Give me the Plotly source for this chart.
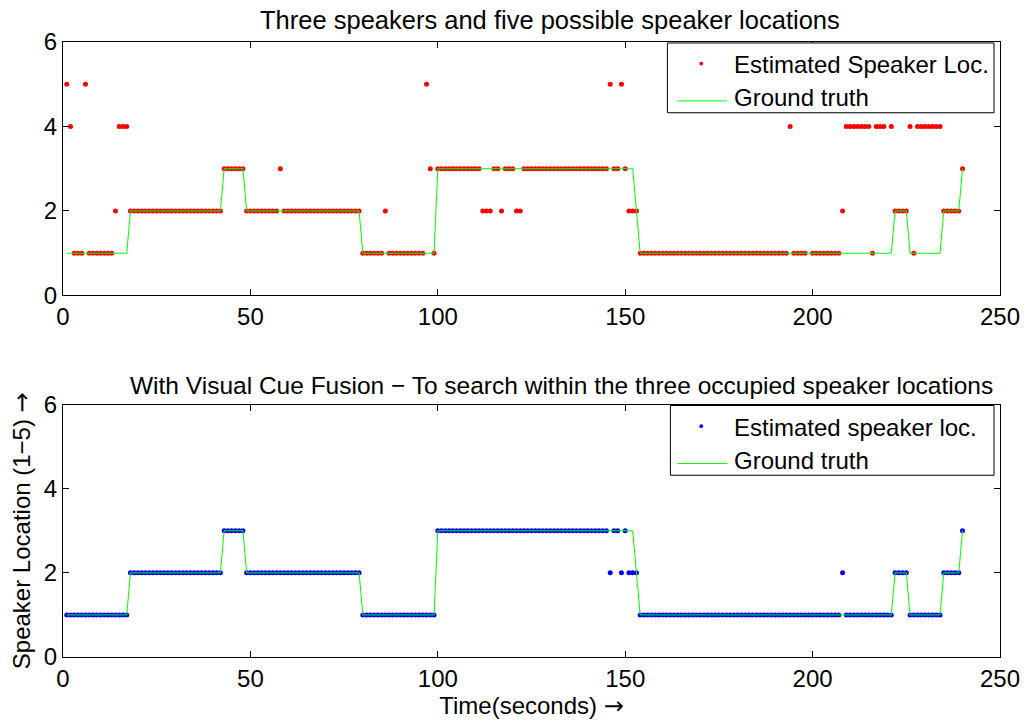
import plotly.graph_objects as go

# Time index (seconds), one sample per second
time_s = list(range(1, 241))

# Ground-truth speaker location for each second
ground_truth = [
    1, 1, 1, 1, 1, 1, 1, 1, 1, 1,   # 1-10
    1, 1, 1, 1, 1, 1, 1, 2, 2, 2,   # 11-20
    2, 2, 2, 2, 2, 2, 2, 2, 2, 2,   # 21-30
    2, 2, 2, 2, 2, 2, 2, 2, 2, 2,   # 31-40
    2, 2, 3, 3, 3, 3, 3, 3, 2, 2,   # 41-50
    2, 2, 2, 2, 2, 2, 2, 2, 2, 2,   # 51-60
    2, 2, 2, 2, 2, 2, 2, 2, 2, 2,   # 61-70
    2, 2, 2, 2, 2, 2, 2, 2, 2, 1,   # 71-80
    1, 1, 1, 1, 1, 1, 1, 1, 1, 1,   # 81-90
    1, 1, 1, 1, 1, 1, 1, 1, 1, 3,   # 91-100
    3, 3, 3, 3, 3, 3, 3, 3, 3, 3,   # 101-110
    3, 3, 3, 3, 3, 3, 3, 3, 3, 3,   # 111-120
    3, 3, 3, 3, 3, 3, 3, 3, 3, 3,   # 121-130
    3, 3, 3, 3, 3, 3, 3, 3, 3, 3,   # 131-140
    3, 3, 3, 3, 3, 3, 3, 3, 3, 3,   # 141-150
    3, 3, 2, 1, 1, 1, 1, 1, 1, 1,   # 151-160
    1, 1, 1, 1, 1, 1, 1, 1, 1, 1,   # 161-170
    1, 1, 1, 1, 1, 1, 1, 1, 1, 1,   # 171-180
    1, 1, 1, 1, 1, 1, 1, 1, 1, 1,   # 181-190
    1, 1, 1, 1, 1, 1, 1, 1, 1, 1,   # 191-200
    1, 1, 1, 1, 1, 1, 1, 1, 1, 1,   # 201-210
    1, 1, 1, 1, 1, 1, 1, 1, 1, 1,   # 211-220
    1, 2, 2, 2, 2, 1, 1, 1, 1, 1,   # 221-230
    1, 1, 1, 1, 2, 2, 2, 2, 2, 3,   # 231-240
]

# Audio-only estimate, searching all five locations
estimate_audio = [
    5, 4, 1, 1, 1, 5, 1, 1, 1, 1,   # 1-10
    1, 1, 1, 2, 4, 4, 4, 2, 2, 2,   # 11-20
    2, 2, 2, 2, 2, 2, 2, 2, 2, 2,   # 21-30
    2, 2, 2, 2, 2, 2, 2, 2, 2, 2,   # 31-40
    2, 2, 3, 3, 3, 3, 3, 3, 2, 2,   # 41-50
    2, 2, 2, 2, 2, 2, 2, 3, 2, 2,   # 51-60
    2, 2, 2, 2, 2, 2, 2, 2, 2, 2,   # 61-70
    2, 2, 2, 2, 2, 2, 2, 2, 2, 1,   # 71-80
    1, 1, 1, 1, 1, 2, 1, 1, 1, 1,   # 81-90
    1, 1, 1, 1, 1, 1, 5, 3, 1, 3,   # 91-100
    3, 3, 3, 3, 3, 3, 3, 3, 3, 3,   # 101-110
    3, 2, 2, 2, 3, 3, 2, 3, 3, 3,   # 111-120
    2, 2, 3, 3, 3, 3, 3, 3, 3, 3,   # 121-130
    3, 3, 3, 3, 3, 3, 3, 3, 3, 3,   # 131-140
    3, 3, 3, 3, 3, 5, 3, 3, 5, 3,   # 141-150
    2, 2, 2, 1, 1, 1, 1, 1, 1, 1,   # 151-160
    1, 1, 1, 1, 1, 1, 1, 1, 1, 1,   # 161-170
    1, 1, 1, 1, 1, 1, 1, 1, 1, 1,   # 171-180
    1, 1, 1, 1, 1, 1, 1, 1, 1, 1,   # 181-190
    1, 1, 1, 4, 1, 1, 1, 1, None, 1,  # 191-200
    1, 1, 1, 1, 1, 1, 1, 2, 4, 4,   # 201-210
    4, 4, 4, 4, 4, 1, 4, 4, 4, None,  # 211-220
    4, 2, 2, 2, 2, 4, 1, 4, 4, 4,   # 221-230
    4, 4, 4, 4, 2, 2, 2, 2, 2, 3,   # 231-240
]

# Estimate with visual cue fusion, searching the three occupied locations
estimate_fused = [
    1, 1, 1, 1, 1, 1, 1, 1, 1, 1,   # 1-10
    1, 1, 1, 1, 1, 1, 1, 2, 2, 2,   # 11-20
    2, 2, 2, 2, 2, 2, 2, 2, 2, 2,   # 21-30
    2, 2, 2, 2, 2, 2, 2, 2, 2, 2,   # 31-40
    2, 2, 3, 3, 3, 3, 3, 3, 2, 2,   # 41-50
    2, 2, 2, 2, 2, 2, 2, 2, 2, 2,   # 51-60
    2, 2, 2, 2, 2, 2, 2, 2, 2, 2,   # 61-70
    2, 2, 2, 2, 2, 2, 2, 2, 2, 1,   # 71-80
    1, 1, 1, 1, 1, 1, 1, 1, 1, 1,   # 81-90
    1, 1, 1, 1, 1, 1, 1, 1, 1, 3,   # 91-100
    3, 3, 3, 3, 3, 3, 3, 3, 3, 3,   # 101-110
    3, 3, 3, 3, 3, 3, 3, 3, 3, 3,   # 111-120
    3, 3, 3, 3, 3, 3, 3, 3, 3, 3,   # 121-130
    3, 3, 3, 3, 3, 3, 3, 3, 3, 3,   # 131-140
    3, 3, 3, 3, 3, 2, 3, 3, 2, 3,   # 141-150
    2, 2, 2, 1, 1, 1, 1, 1, 1, 1,   # 151-160
    1, 1, 1, 1, 1, 1, 1, 1, 1, 1,   # 161-170
    1, 1, 1, 1, 1, 1, 1, 1, 1, 1,   # 171-180
    1, 1, 1, 1, 1, 1, 1, 1, 1, 1,   # 181-190
    1, 1, 1, 1, 1, 1, 1, 1, 1, 1,   # 191-200
    1, 1, 1, 1, 1, 1, 1, 2, 1, 1,   # 201-210
    1, 1, 1, 1, 1, 1, 1, 1, 1, 1,   # 211-220
    1, 2, 2, 2, 2, 1, 1, 1, 1, 1,   # 221-230
    1, 1, 1, 1, 2, 2, 2, 2, 2, 3,   # 231-240
]

x_ticks = [0, 50, 100, 150, 200, 250]
y_ticks = [0, 2, 4, 6]

FONT = "Liberation Sans, Arial, Helvetica, sans-serif"
ARROW = '<span style="font-family:DejaVu Sans">→</span>'
GREEN = "#00ff00"
RED = "#ff0000"
BLUE = "#0000ff"

W, H = 1032, 725
ML, MR, MT, MB = 63, 28, 42, 57
plot_w = W - ML - MR
plot_h = H - MT - MB


def fx(px):
    """Horizontal pixel position -> paper fraction."""
    return (px - ML) / plot_w


def fy(py):
    """Vertical pixel position (from top) -> paper fraction."""
    return (H - MB - py) / plot_h


top_dom = [fy(300), 1.0]
bot_dom = [0.0, fy(411)]

fig = go.Figure()

# Top panel: audio-only localisation
fig.add_trace(go.Scatter(
    x=time_s, y=estimate_audio, mode="markers", name="Estimated Speaker Loc.",
    marker=dict(color=RED, size=5, line=dict(width=0)),
    xaxis="x", yaxis="y",
))
fig.add_trace(go.Scatter(
    x=time_s, y=ground_truth, mode="lines", name="Ground truth",
    line=dict(color=GREEN, width=1),
    xaxis="x", yaxis="y",
))

# Bottom panel: with visual cue fusion
fig.add_trace(go.Scatter(
    x=time_s, y=estimate_fused, mode="markers", name="Estimated speaker loc.",
    marker=dict(color=BLUE, size=5, line=dict(width=0)),
    xaxis="x2", yaxis="y2",
))
fig.add_trace(go.Scatter(
    x=time_s, y=ground_truth, mode="lines", name="Ground truth",
    line=dict(color=GREEN, width=1),
    xaxis="x2", yaxis="y2",
))

axis_common = dict(
    showline=True, linecolor="black", linewidth=1, mirror="ticks",
    ticks="inside", ticklen=6, tickcolor="black", tickwidth=1,
    showgrid=False, zeroline=False,
    tickfont=dict(family=FONT, size=24, color="black"),
)

# Boxed legends drawn in the upper-right corner of each panel
shapes = []
annotations = []


def add_legend(top, left, marker_color, marker_label):
    right = 998
    shapes.append(dict(type="rect", xref="paper", yref="paper",
                       x0=fx(left), x1=fx(right), y0=fy(top + 71), y1=fy(top),
                       line=dict(color="black", width=1), fillcolor="white", layer="above"))
    # marker sample
    r = 2
    shapes.append(dict(type="circle", xref="paper", yref="paper",
                       x0=fx(704 - r), x1=fx(704 + r), y0=fy(top + 21 + r), y1=fy(top + 21 - r),
                       line=dict(width=0), fillcolor=marker_color, layer="above"))
    # line sample
    shapes.append(dict(type="line", xref="paper", yref="paper",
                       x0=fx(680), x1=fx(730), y0=fy(top + 59), y1=fy(top + 59),
                       line=dict(color=GREEN, width=1), layer="above"))
    annotations.append(dict(text=marker_label, xref="paper", yref="paper",
                            x=fx(735), y=fy(top + 22), xanchor="left", yanchor="middle",
                            showarrow=False, font=dict(family=FONT, size=24, color="black")))
    annotations.append(dict(text="Ground truth", xref="paper", yref="paper",
                            x=fx(735), y=fy(top + 56), xanchor="left", yanchor="middle",
                            showarrow=False, font=dict(family=FONT, size=24, color="black")))


add_legend(43, 670, RED, "Estimated Speaker Loc.")
add_legend(412, 673, BLUE, "Estimated speaker loc.")

annotations.append(dict(text="Three speakers and five possible speaker locations",
                        xref="paper", yref="paper", x=0.5, y=top_dom[1], yshift=6, xshift=18,
                        xanchor="center", yanchor="bottom", showarrow=False,
                        font=dict(family=FONT, size=25.5, color="black")))
annotations.append(dict(text="With Visual Cue Fusion − To search within the three occupied speaker locations",
                        xref="paper", yref="paper", x=0.5, y=bot_dom[1], yshift=4, xshift=30,
                        xanchor="center", yanchor="bottom", showarrow=False,
                        font=dict(family=FONT, size=24.5, color="black")))

fig.update_layout(
    width=W, height=H, autosize=False,
    margin=dict(l=ML, r=MR, t=MT, b=MB),
    paper_bgcolor="white", plot_bgcolor="white",
    font=dict(family=FONT, size=24, color="black"),
    showlegend=False,
    xaxis=dict(axis_common, range=[0, 250], tickvals=x_ticks, anchor="y"),
    yaxis=dict(axis_common, range=[0, 6], tickvals=y_ticks, domain=top_dom, anchor="x"),
    xaxis2=dict(axis_common, range=[0, 250], tickvals=x_ticks, anchor="y2",
                title=dict(text="Time(seconds) " + ARROW, standoff=4,
                           font=dict(family=FONT, size=24))),
    yaxis2=dict(axis_common, range=[0, 6], tickvals=y_ticks, domain=bot_dom, anchor="x2",
                title=dict(text="Speaker Location (1−5) " + ARROW, standoff=6,
                           font=dict(family=FONT, size=24))),
    shapes=shapes,
    annotations=annotations,
)

fig.write_html("out.html")
